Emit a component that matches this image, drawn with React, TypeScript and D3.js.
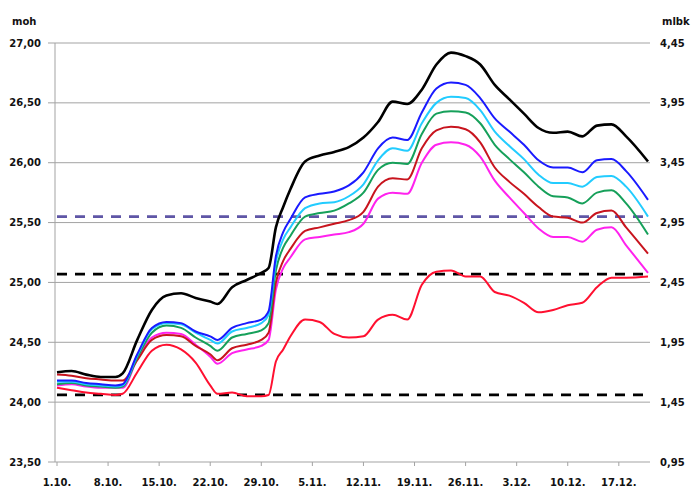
import { useMemo } from "react";
import * as d3 from "d3";

const width = 695;
const height = 488;

const startDate = new Date(Date.UTC(2012, 9, 1));
const endDay = 81;

// day offsets from 1.10.
const days = [
  0, 2, 4, 6, 8, 9, 11, 13, 15, 17, 19, 21, 22, 24, 26, 28, 29, 30, 31, 32, 34,
  36, 38, 40, 42, 44, 46, 48, 50, 52, 54, 56, 58, 60, 62, 64, 66, 68, 70, 72,
  74, 76, 78, 81,
];

const blackVals = [
  24.25, 24.26, 24.23, 24.21, 24.21, 24.24, 24.52, 24.77, 24.89, 24.91, 24.87,
  24.84, 24.82, 24.96, 25.02, 25.08, 25.12, 25.46, 25.63, 25.78, 26.01, 26.06,
  26.09, 26.13, 26.21, 26.34, 26.51, 26.49, 26.61, 26.82, 26.92, 26.89, 26.82,
  26.65, 26.53, 26.41, 26.29, 26.25, 26.26, 26.22, 26.31, 26.32, 26.22, 26.01,
];
const blueVals = [
  24.18, 24.18, 24.16, 24.15, 24.14, 24.15, 24.4, 24.62, 24.67, 24.66, 24.59,
  24.55, 24.52, 24.62, 24.66, 24.69, 24.76, 25.22, 25.42, 25.53, 25.71, 25.74,
  25.76, 25.81, 25.92, 26.12, 26.21, 26.19, 26.42, 26.62, 26.67, 26.65, 26.54,
  26.37, 26.26, 26.15, 26.02, 25.96, 25.96, 25.92, 26.02, 26.03, 25.93, 25.69,
];
const cyanVals = [
  24.17, 24.17, 24.15, 24.14, 24.13, 24.14, 24.39, 24.61, 24.66, 24.65, 24.58,
  24.52, 24.49, 24.59, 24.62, 24.66, 24.73, 25.17, 25.36, 25.46, 25.62, 25.66,
  25.67, 25.72, 25.82, 26.02, 26.12, 26.1, 26.33, 26.5, 26.55, 26.54, 26.44,
  26.26, 26.14, 26.03, 25.9, 25.83, 25.83, 25.8, 25.88, 25.89, 25.8, 25.55,
];
const greenVals = [
  24.15, 24.16, 24.14, 24.13, 24.12, 24.13, 24.37, 24.58, 24.64, 24.62, 24.54,
  24.47, 24.43, 24.54, 24.57, 24.6, 24.66, 25.1, 25.29, 25.39, 25.55, 25.58,
  25.6, 25.66, 25.75, 25.94, 26.0, 25.99, 26.24, 26.41, 26.43, 26.42, 26.33,
  26.15, 26.03, 25.92, 25.8, 25.72, 25.71, 25.66, 25.75, 25.77, 25.66, 25.4,
];
const darkRedVals = [
  24.23, 24.22, 24.2, 24.19, 24.18, 24.18, 24.35, 24.52, 24.56, 24.55, 24.47,
  24.4, 24.35, 24.45, 24.48, 24.52, 24.58, 25.0, 25.18, 25.28, 25.43, 25.46,
  25.49, 25.52, 25.59, 25.8, 25.87, 25.86, 26.12, 26.27, 26.3, 26.28, 26.17,
  25.96, 25.84, 25.74, 25.63, 25.55, 25.54, 25.5, 25.58, 25.6, 25.46, 25.24,
];
const magentaVals = [
  24.14, 24.15, 24.13, 24.12, 24.12, 24.12, 24.36, 24.54, 24.58, 24.57, 24.48,
  24.38, 24.32, 24.41, 24.44, 24.47, 24.52, 24.94, 25.12, 25.21, 25.36, 25.38,
  25.4, 25.42, 25.49, 25.7, 25.75, 25.74, 26.0, 26.15, 26.17, 26.15, 26.05,
  25.85, 25.71, 25.58, 25.45, 25.38, 25.38, 25.34, 25.44, 25.46, 25.31, 25.08,
];
const redVals = [
  24.12, 24.1, 24.08, 24.07, 24.06, 24.07, 24.25, 24.43, 24.48, 24.44, 24.33,
  24.14, 24.07, 24.08, 24.05, 24.05, 24.06, 24.34, 24.44, 24.55, 24.69, 24.67,
  24.57, 24.54, 24.55, 24.69, 24.73, 24.69, 24.98, 25.09, 25.1, 25.05, 25.05,
  24.92, 24.89, 24.83, 24.75, 24.77, 24.81, 24.83, 24.96, 25.04, 25.04, 25.05,
];

const series = [
  { values: redVals, color: "#ff1030", w: 2 },
  { values: magentaVals, color: "#ff22ee", w: 2 },
  { values: darkRedVals, color: "#c8141e", w: 2 },
  { values: greenVals, color: "#16a05a", w: 2 },
  { values: cyanVals, color: "#22ccff", w: 2 },
  { values: blueVals, color: "#1a1aff", w: 2 },
  { values: blackVals, color: "#000000", w: 2.6 },
];

// reference levels (moh)
const refLevels = [
  { value: 25.55, color: "#5f56a6" },
  { value: 25.07, color: "#000000" },
  { value: 24.06, color: "#000000" },
];

const leftTicks = [23.5, 24.0, 24.5, 25.0, 25.5, 26.0, 26.5, 27.0];
const rightTicks = [0.95, 1.45, 1.95, 2.45, 2.95, 3.45, 3.95, 4.45];
const weekDays = [0, 7, 14, 21, 28, 35, 42, 49, 56, 63, 70, 77];

const left = 55;
const right = 648;
const top = 43;
const bottom = 462;

const font = "'DejaVu Sans', Verdana, sans-serif";

export default function App() {
  const x = useMemo(
    () =>
      d3
        .scaleUtc()
        .domain([startDate, d3.utcDay.offset(startDate, endDay)])
        .range([57, right]),
    []
  );
  const y = useMemo(
    () => d3.scaleLinear().domain([23.5, 27]).range([bottom, top]),
    []
  );
  const yRight = useMemo(
    () => d3.scaleLinear().domain([0.95, 4.45]).range([bottom, top]),
    []
  );

  const line = d3
    .line<[Date, number]>()
    .x((d) => x(d[0]))
    .y((d) => y(d[1]))
    .curve(d3.curveMonotoneX);

  const fmt = (v: number) => d3.format(".2f")(v).replace(".", ",");
  const dateFmt = d3.utcFormat("%-d.%-m.");

  return (
    <svg
      width={width}
      height={height}
      style={{ position: "absolute", left: 0, top: 0, background: "#fff" }}
      fontFamily={font}
    >
      {/* grid */}
      {leftTicks.map((t) => (
        <line
          key={t}
          x1={48}
          x2={650}
          y1={y(t)}
          y2={y(t)}
          stroke="#a3a3a3"
          strokeWidth={1}
        />
      ))}
      <line x1={left} x2={left} y1={top} y2={bottom} stroke="#a3a3a3" />
      {weekDays.map((d) => {
        const px = x(d3.utcDay.offset(startDate, d));
        return (
          <line
            key={d}
            x1={px}
            x2={px}
            y1={bottom}
            y2={bottom + 4}
            stroke="#a3a3a3"
          />
        );
      })}

      {/* reference levels */}
      {refLevels.map((r) => (
        <line
          key={r.value}
          x1={left + 2}
          x2={right}
          y1={y(r.value)}
          y2={y(r.value)}
          stroke={r.color}
          strokeWidth={2.8}
          strokeDasharray="10 8"
        />
      ))}

      {/* series */}
      {series.map((s, i) => (
        <path
          key={i}
          d={
            line(
              days.map(
                (d, j) =>
                  [d3.utcDay.offset(startDate, d), s.values[j]] as [Date, number]
              )
            ) ?? ""
          }
          fill="none"
          stroke={s.color}
          strokeWidth={s.w}
          strokeLinejoin="round"
        />
      ))}

      {/* left axis labels */}
      {leftTicks.map((t) => (
        <text
          key={t}
          x={41}
          y={y(t)}
          dy="0.35em"
          textAnchor="end"
          fontSize={10}
          fontWeight="bold"
          fill="#111"
        >
          {fmt(t)}
        </text>
      ))}
      {rightTicks.map((t) => (
        <text
          key={t}
          x={660}
          y={yRight(t)}
          dy="0.35em"
          fontSize={10}
          fontWeight="bold"
          fill="#111"
        >
          {fmt(t)}
        </text>
      ))}
      {weekDays.map((d) => {
        const dt = d3.utcDay.offset(startDate, d);
        return (
          <text
            key={d}
            x={x(dt)}
            y={486}
            textAnchor="middle"
            fontSize={10}
            fontWeight="bold"
            fill="#111"
          >
            {dateFmt(dt)}
          </text>
        );
      })}

      <text x={12} y={25} fontSize={10} fontWeight="bold" fill="#111">
        moh
      </text>
      <text x={662} y={25} fontSize={10} fontWeight="bold" fill="#111">
        mlbk
      </text>
    </svg>
  );
}
